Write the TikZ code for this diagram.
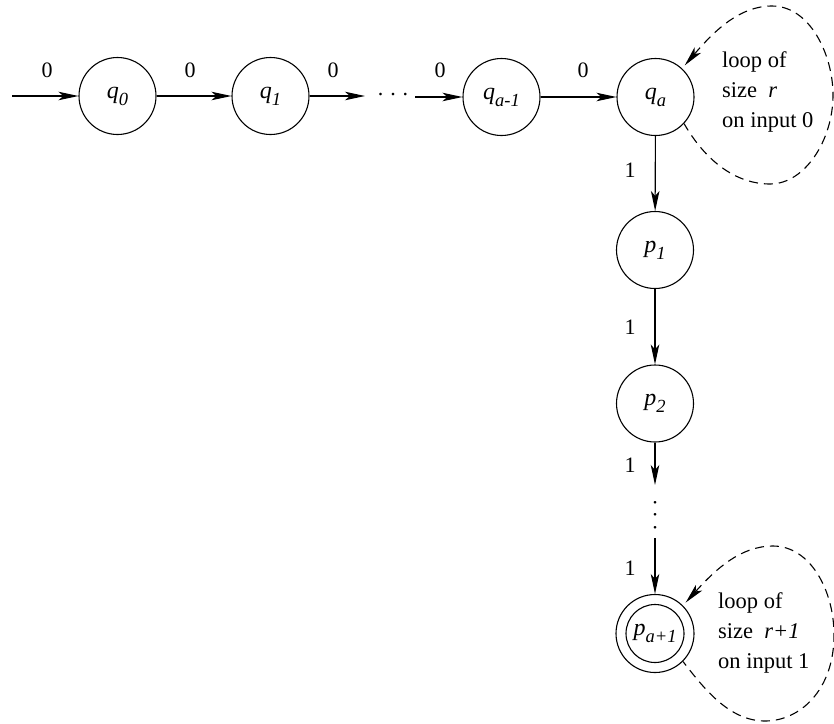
\documentclass[tikz,border=0pt]{standalone}
\usepackage{fontspec}
\setmainfont{Liberation Serif}
\usetikzlibrary{arrows.meta}
\newcommand{\stt}[2]{\fontsize{24}{24}\selectfont\textit{#1}\raisebox{-7pt}{\fontsize{18.5}{18.5}\selectfont\textit{#2}}}
\begin{document}
\begin{tikzpicture}[x=1pt,y=-1pt,
 state/.style={draw,circle,minimum size=77pt,inner sep=0pt,line width=1.1pt},
 arr/.style={line width=1.1pt,-{Stealth[length=20pt,width=8.5pt,inset=5pt]}},
 loopline/.style={line width=1.1pt,dash pattern=on 9pt off 6pt,{Stealth[length=20pt,width=8.5pt,inset=5pt]}-},
 lbl/.style={font=\fontsize{22}{26}\selectfont,inner sep=0pt},
 note/.style={font=\fontsize{22.5}{30}\selectfont,align=left,inner sep=0pt,anchor=base west}]
\useasboundingbox (0,0) rectangle (834,723);
\node[state] (q0) at (117.5,96) {\stt{q}{0}};
\node[state] (q1) at (270.5,96) {\stt{q}{1}};
\node[lbl] (hd) at (393,95) {.\hspace{7pt}.\hspace{7pt}.};
\node[state] (qa1) at (501.5,97) {\stt{q}{a-1}};
\node[state] (qa) at (655.5,97) {\stt{q}{a}};
\node[state] (p1) at (655,250) {\stt{p}{1}};
\node[state] (p2) at (655,403.5) {\stt{p}{2}};
\node[lbl,rotate=90] (vd) at (655,515) {.\hspace{7pt}.\hspace{7pt}.};
\node[state,minimum size=78pt] (pa) at (655,633.5) {};
\node[draw,circle,minimum size=58pt,inner sep=0pt,line width=1.1pt] (pin) at (pa) {\stt{p}{a+1}};
\coordinate (start) at (12,96);
\coordinate (h1end) at (365,96);
\coordinate (h2start) at (415,97);
\coordinate (v1end) at (655,485);
\coordinate (v2start) at (655,538);
\draw[arr] (start) -- (q0);
\draw[arr] (q0) -- (q1);
\draw[arr] (q1) -- (h1end);
\draw[arr] (h2start) -- (qa1);
\draw[arr] (qa1) -- (qa);
\draw[arr] (qa) -- (p1);
\draw[arr] (p1) -- (p2);
\draw[arr] (p2) -- (v1end);
\draw[arr] (v2start) -- (pa);
\node[lbl] (l1) at (47,70) {0};
\node[lbl] (l2) at (190,70) {0};
\node[lbl] (l3) at (333,70) {0};
\node[lbl] (l4) at (440,70) {0};
\node[lbl] (l5) at (583,70) {0};
\node[lbl] (l6) at (630,170) {1};
\node[lbl] (l7) at (630,327) {1};
\node[lbl] (l8) at (630,465) {1};
\node[lbl] (l9) at (630,568) {1};
\draw[loopline,shorten <=4pt] (qa.47) .. controls (715,30) and (740,6) .. (772,6) .. controls (810,6) and (833,55) .. (833,95) .. controls (833,140) and (805,184) .. (770,184) .. controls (735,184) and (705,160) .. (qa.-43);
\draw[loopline,shorten <=4pt] (pa.45) .. controls (715,570) and (740,546) .. (773,546) .. controls (810,546) and (834,590) .. (834,635) .. controls (834,690) and (800,721) .. (765,721) .. controls (730,721) and (705,690) .. (pa.-45);
\node[note] (n1) at (722,127) {loop of\\size\ \ \textit{r}\\on input 0};
\node[note] (n2) at (718,668) {loop of\\size\ \ \textit{r+1}\\on input 1};
\end{tikzpicture}
\end{document}
